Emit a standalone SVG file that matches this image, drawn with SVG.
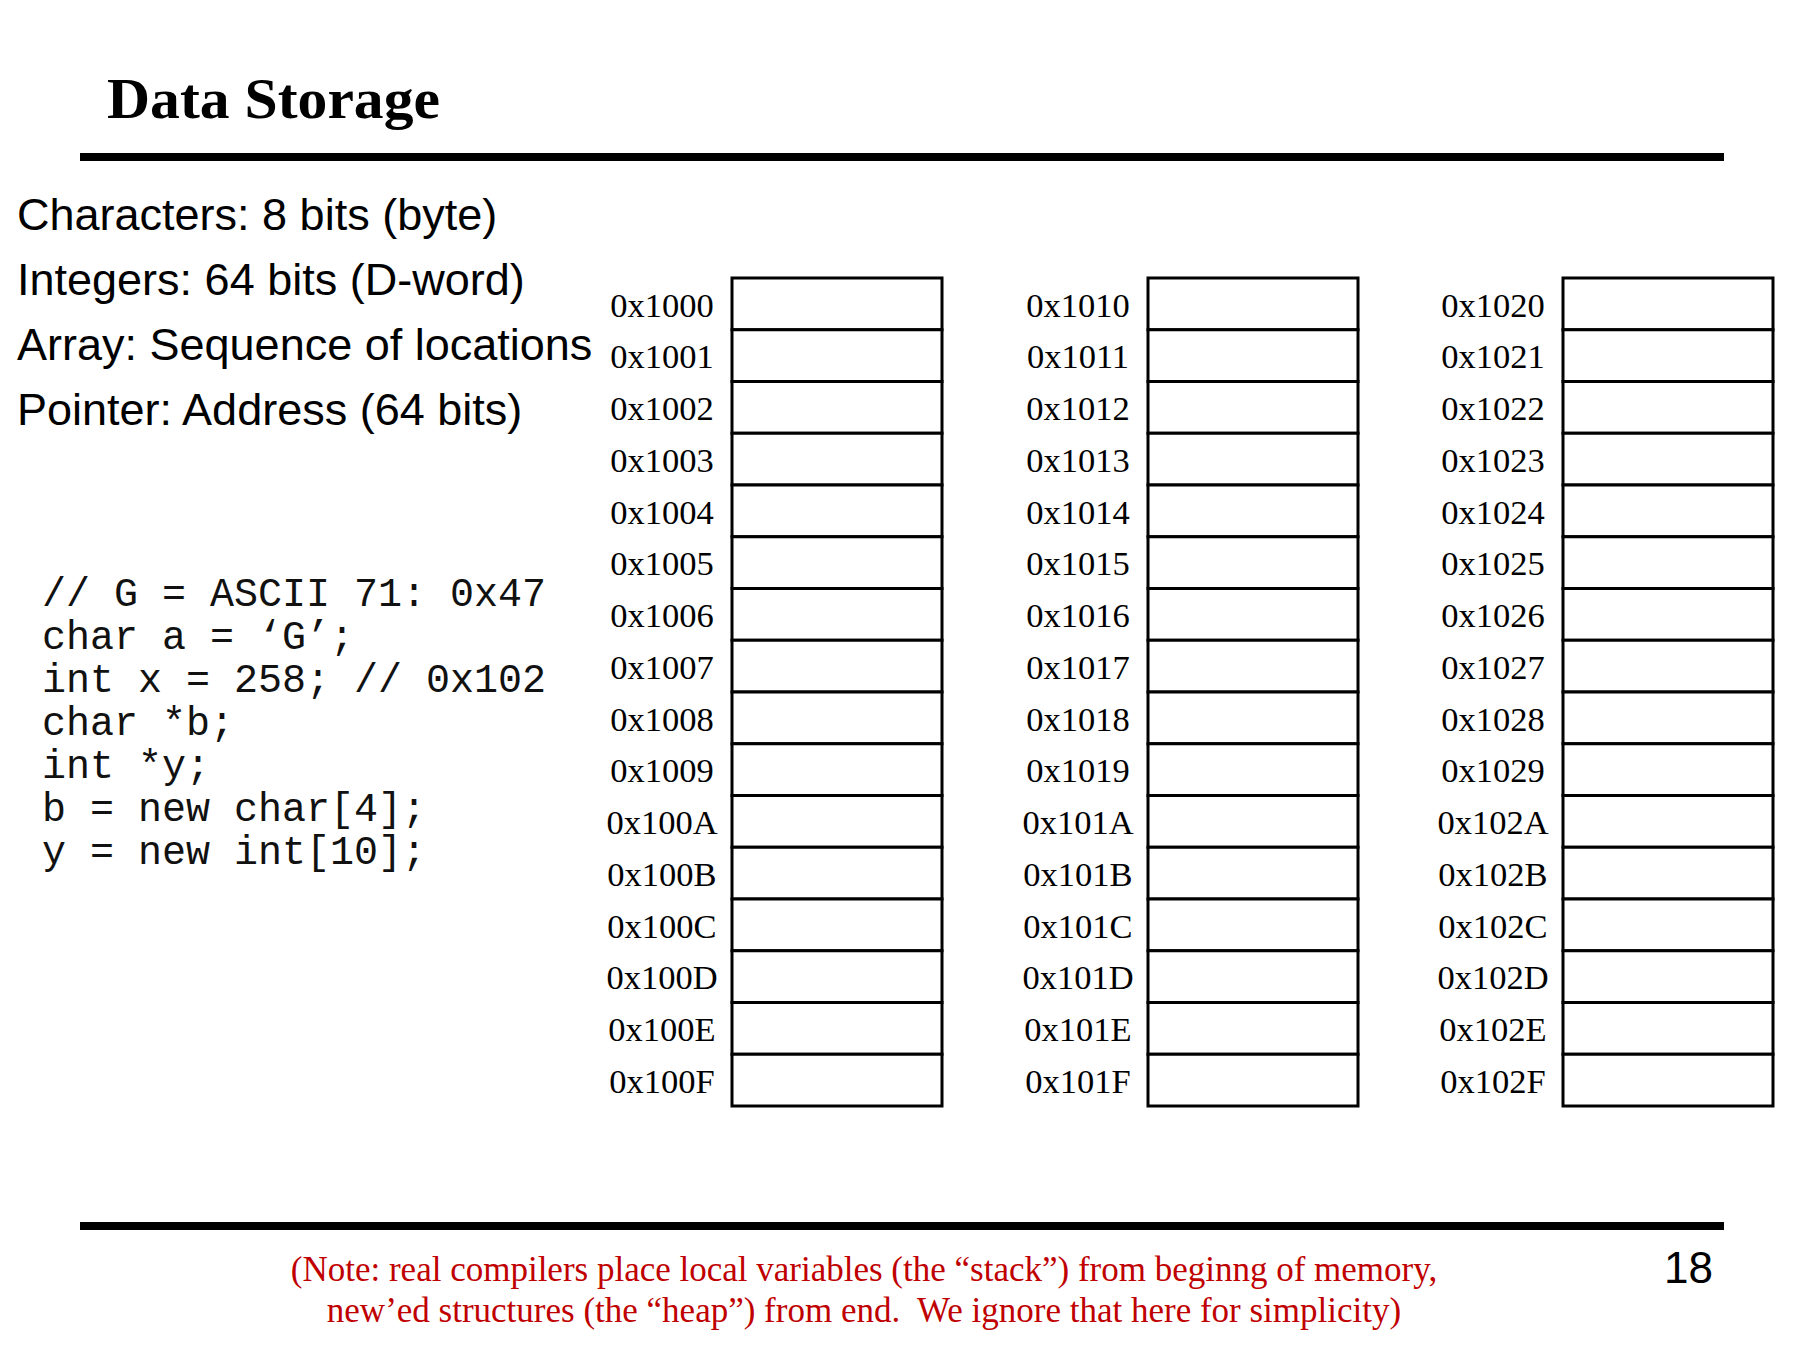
<svg xmlns="http://www.w3.org/2000/svg" width="1800" height="1350" viewBox="0 0 1800 1350">
<style>
.title{font-family:"Liberation Serif","Times New Roman",serif;font-weight:bold;font-size:58px;fill:#000}
.bullet{font-family:"Liberation Sans",Arial,sans-serif;font-size:45px;fill:#000}
.code{font-family:"Liberation Mono","Courier New",monospace;font-size:40px;fill:#111}
.addr{font-family:"Liberation Serif","Times New Roman",serif;font-size:34.5px;fill:#000;text-anchor:middle}
.cell{fill:#fff;stroke:#000;stroke-width:3}
.note{font-family:"Liberation Serif","Times New Roman",serif;font-size:35px;fill:#C00000;text-anchor:middle;white-space:pre}
.pnum{font-family:"Liberation Sans",Arial,sans-serif;font-size:44px;fill:#000;text-anchor:end}
.rule{fill:#000}
</style>
<rect width="1800" height="1350" fill="#fff"/>
<g id="header">
<text class="title" x="107" y="118" textLength="333" lengthAdjust="spacingAndGlyphs">Data Storage</text>
<rect class="rule" x="80" y="153" width="1644" height="8"/>
</g>
<g id="definitions">
<text class="bullet" x="17" y="230">Characters: 8 bits (byte)</text>
<text class="bullet" x="17" y="295">Integers: 64 bits (D-word)</text>
<text class="bullet" x="17" y="360">Array: Sequence of locations</text>
<text class="bullet" x="17" y="425">Pointer: Address (64 bits)</text>
</g>
<g id="code">
<text class="code" x="42" y="606">// G = ASCII 71: 0x47</text>
<text class="code" x="42" y="649">char a = ‘G’;</text>
<text class="code" x="42" y="692">int x = 258; // 0x102</text>
<text class="code" x="42" y="735">char *b;</text>
<text class="code" x="42" y="778">int *y;</text>
<text class="code" x="42" y="821">b = new char[4];</text>
<text class="code" x="42" y="864">y = new int[10];</text>
</g>
<g id="memory-col-1">
<rect class="cell" x="732" y="278" width="210" height="51.75"/><text class="addr" x="662" y="316.5">0x1000</text>
<rect class="cell" x="732" y="329.75" width="210" height="51.75"/><text class="addr" x="662" y="368.25">0x1001</text>
<rect class="cell" x="732" y="381.5" width="210" height="51.75"/><text class="addr" x="662" y="420">0x1002</text>
<rect class="cell" x="732" y="433.25" width="210" height="51.75"/><text class="addr" x="662" y="471.75">0x1003</text>
<rect class="cell" x="732" y="485" width="210" height="51.75"/><text class="addr" x="662" y="523.5">0x1004</text>
<rect class="cell" x="732" y="536.75" width="210" height="51.75"/><text class="addr" x="662" y="575.25">0x1005</text>
<rect class="cell" x="732" y="588.5" width="210" height="51.75"/><text class="addr" x="662" y="627">0x1006</text>
<rect class="cell" x="732" y="640.25" width="210" height="51.75"/><text class="addr" x="662" y="678.75">0x1007</text>
<rect class="cell" x="732" y="692" width="210" height="51.75"/><text class="addr" x="662" y="730.5">0x1008</text>
<rect class="cell" x="732" y="743.75" width="210" height="51.75"/><text class="addr" x="662" y="782.25">0x1009</text>
<rect class="cell" x="732" y="795.5" width="210" height="51.75"/><text class="addr" x="662" y="834">0x100A</text>
<rect class="cell" x="732" y="847.25" width="210" height="51.75"/><text class="addr" x="662" y="885.75">0x100B</text>
<rect class="cell" x="732" y="899" width="210" height="51.75"/><text class="addr" x="662" y="937.5">0x100C</text>
<rect class="cell" x="732" y="950.75" width="210" height="51.75"/><text class="addr" x="662" y="989.25">0x100D</text>
<rect class="cell" x="732" y="1002.5" width="210" height="51.75"/><text class="addr" x="662" y="1041">0x100E</text>
<rect class="cell" x="732" y="1054.25" width="210" height="51.75"/><text class="addr" x="662" y="1092.75">0x100F</text>
</g>
<g id="memory-col-2">
<rect class="cell" x="1148" y="278" width="210" height="51.75"/><text class="addr" x="1078" y="316.5">0x1010</text>
<rect class="cell" x="1148" y="329.75" width="210" height="51.75"/><text class="addr" x="1078" y="368.25">0x1011</text>
<rect class="cell" x="1148" y="381.5" width="210" height="51.75"/><text class="addr" x="1078" y="420">0x1012</text>
<rect class="cell" x="1148" y="433.25" width="210" height="51.75"/><text class="addr" x="1078" y="471.75">0x1013</text>
<rect class="cell" x="1148" y="485" width="210" height="51.75"/><text class="addr" x="1078" y="523.5">0x1014</text>
<rect class="cell" x="1148" y="536.75" width="210" height="51.75"/><text class="addr" x="1078" y="575.25">0x1015</text>
<rect class="cell" x="1148" y="588.5" width="210" height="51.75"/><text class="addr" x="1078" y="627">0x1016</text>
<rect class="cell" x="1148" y="640.25" width="210" height="51.75"/><text class="addr" x="1078" y="678.75">0x1017</text>
<rect class="cell" x="1148" y="692" width="210" height="51.75"/><text class="addr" x="1078" y="730.5">0x1018</text>
<rect class="cell" x="1148" y="743.75" width="210" height="51.75"/><text class="addr" x="1078" y="782.25">0x1019</text>
<rect class="cell" x="1148" y="795.5" width="210" height="51.75"/><text class="addr" x="1078" y="834">0x101A</text>
<rect class="cell" x="1148" y="847.25" width="210" height="51.75"/><text class="addr" x="1078" y="885.75">0x101B</text>
<rect class="cell" x="1148" y="899" width="210" height="51.75"/><text class="addr" x="1078" y="937.5">0x101C</text>
<rect class="cell" x="1148" y="950.75" width="210" height="51.75"/><text class="addr" x="1078" y="989.25">0x101D</text>
<rect class="cell" x="1148" y="1002.5" width="210" height="51.75"/><text class="addr" x="1078" y="1041">0x101E</text>
<rect class="cell" x="1148" y="1054.25" width="210" height="51.75"/><text class="addr" x="1078" y="1092.75">0x101F</text>
</g>
<g id="memory-col-3">
<rect class="cell" x="1563" y="278" width="210" height="51.75"/><text class="addr" x="1493" y="316.5">0x1020</text>
<rect class="cell" x="1563" y="329.75" width="210" height="51.75"/><text class="addr" x="1493" y="368.25">0x1021</text>
<rect class="cell" x="1563" y="381.5" width="210" height="51.75"/><text class="addr" x="1493" y="420">0x1022</text>
<rect class="cell" x="1563" y="433.25" width="210" height="51.75"/><text class="addr" x="1493" y="471.75">0x1023</text>
<rect class="cell" x="1563" y="485" width="210" height="51.75"/><text class="addr" x="1493" y="523.5">0x1024</text>
<rect class="cell" x="1563" y="536.75" width="210" height="51.75"/><text class="addr" x="1493" y="575.25">0x1025</text>
<rect class="cell" x="1563" y="588.5" width="210" height="51.75"/><text class="addr" x="1493" y="627">0x1026</text>
<rect class="cell" x="1563" y="640.25" width="210" height="51.75"/><text class="addr" x="1493" y="678.75">0x1027</text>
<rect class="cell" x="1563" y="692" width="210" height="51.75"/><text class="addr" x="1493" y="730.5">0x1028</text>
<rect class="cell" x="1563" y="743.75" width="210" height="51.75"/><text class="addr" x="1493" y="782.25">0x1029</text>
<rect class="cell" x="1563" y="795.5" width="210" height="51.75"/><text class="addr" x="1493" y="834">0x102A</text>
<rect class="cell" x="1563" y="847.25" width="210" height="51.75"/><text class="addr" x="1493" y="885.75">0x102B</text>
<rect class="cell" x="1563" y="899" width="210" height="51.75"/><text class="addr" x="1493" y="937.5">0x102C</text>
<rect class="cell" x="1563" y="950.75" width="210" height="51.75"/><text class="addr" x="1493" y="989.25">0x102D</text>
<rect class="cell" x="1563" y="1002.5" width="210" height="51.75"/><text class="addr" x="1493" y="1041">0x102E</text>
<rect class="cell" x="1563" y="1054.25" width="210" height="51.75"/><text class="addr" x="1493" y="1092.75">0x102F</text>
</g>
<g id="footer">
<rect class="rule" x="80" y="1222" width="1644" height="8"/>
<text class="note" x="864" y="1281">(Note: real compilers place local variables (the “stack”) from beginng of memory,</text>
<text class="note" x="864" y="1322" xml:space="preserve">new’ed structures (the “heap”) from end.  We ignore that here for simplicity)</text>
<text class="pnum" x="1713" y="1283">18</text>
</g>
<g id="connectors"/>
</svg>
